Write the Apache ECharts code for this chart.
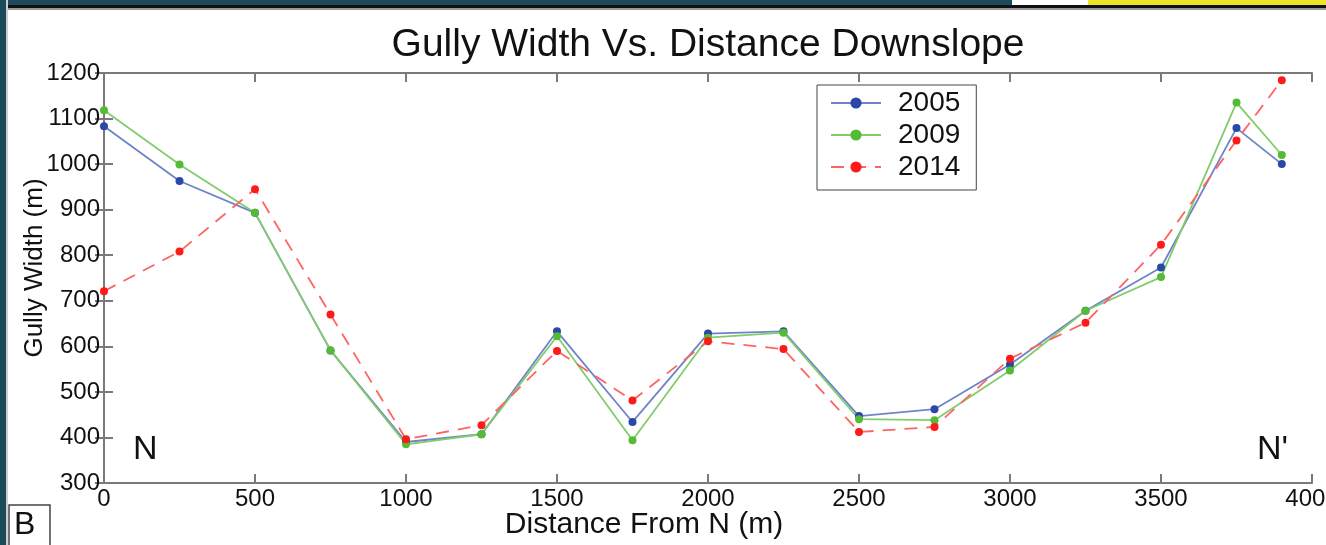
<!DOCTYPE html>
<html>
<head>
<meta charset="utf-8">
<script src="https://cdn.jsdelivr.net/npm/echarts@6/dist/echarts.min.js"></script>
<style>
html,body{margin:0;padding:0;background:#fff;}
#chart{width:1326px;height:545px;}
</style>
</head>
<body>
<div id="chart"></div>
<script>
const distances = [0, 250, 500, 750, 1000, 1250, 1500, 1750, 2000, 2250, 2500, 2750, 3000, 3250, 3500, 3750, 3900];
const width2005 = [1083, 963, 893, 591, 390, 407, 633, 434, 628, 633, 447, 462, 560, 678, 773, 1079, 1000];
const width2009 = [1118, 999, 893, 591, 385, 407, 622, 394, 619, 630, 440, 438, 547, 678, 752, 1135, 1020];
const width2014 = [721, 808, 945, 670, 396, 427, 590, 481, 611, 594, 412, 423, 573, 652, 823, 1052, 1184];
const seriesNames = ['2005', '2009', '2014'];

const FONT = '"Liberation Sans", Arial, Helvetica, sans-serif';
const pairs = (ys) => distances.map((d, i) => [d, ys[i]]);
const plain = (v) => String(v);

const chart = echarts.init(document.getElementById('chart'), null, {renderer: 'canvas'});

const axisLine = {show: true, lineStyle: {color: '#7a7a7a', width: 2}};
const tick = {show: true, inside: true, length: 9, lineStyle: {color: '#7a7a7a', width: 2}};

chart.setOption({
  animation: false,
  backgroundColor: '#ffffff',
  title: {
    text: 'Gully Width Vs. Distance Downslope',
    left: 703, textAlign: 'center', top: 21,
    textStyle: {fontFamily: FONT, fontSize: 39, fontWeight: 'normal', color: '#111'}
  },
  grid: {left: 104, right: 14, top: 73, bottom: 62, containLabel: false, outerBoundsMode: 'none'},
  legend: {
    orient: 'vertical',
    left: 817, top: 85,
    data: seriesNames,
    itemWidth: 50, itemHeight: 14, itemGap: 2,
    padding: [3, 16, 8, 13],
    borderColor: '#444', borderWidth: 1,
    backgroundColor: '#fff',
    textStyle: {fontFamily: FONT, fontSize: 28, color: '#111', lineHeight: 30, padding: [0, 0, 0, 12]}
  },
  xAxis: [{
    type: 'value', min: 0, max: 4000, interval: 500,
    name: 'Distance From N (m)', nameLocation: 'middle', nameGap: 27, nameMoveOverlap: false,
    nameTextStyle: {fontFamily: FONT, fontSize: 30, color: '#111', padding: [0, 128, 0, 0]},
    axisLine: axisLine, axisTick: tick,
    axisLabel: {fontFamily: FONT, fontSize: 24, color: '#111', margin: 4, formatter: plain},
    splitLine: {show: false}
  }, {
    type: 'value', min: 0, max: 4000, interval: 500, position: 'top',
    axisLine: axisLine, axisTick: tick, axisLabel: {show: false}, splitLine: {show: false}
  }],
  yAxis: [{
    type: 'value', min: 300, max: 1200, interval: 100,
    name: 'Gully Width (m)', nameLocation: 'middle', nameGap: 56, nameMoveOverlap: false,
    nameTextStyle: {fontFamily: FONT, fontSize: 26, color: '#111', padding: [0, 0, 0, 20]},
    axisLine: axisLine, axisTick: tick,
    axisLabel: {fontFamily: FONT, fontSize: 24, color: '#111', margin: 4, formatter: plain},
    splitLine: {show: false}
  }, {
    type: 'value', min: 300, max: 1200, interval: 100, position: 'right',
    axisLine: axisLine, axisTick: tick, axisLabel: {show: false}, splitLine: {show: false}
  }],
  series: [{
    name: seriesNames[0], type: 'line', data: pairs(width2005),
    symbol: 'circle', symbolSize: 8,
    itemStyle: {color: '#2a48a8'},
    lineStyle: {color: '#6f84c8', width: 1.8}
  }, {
    name: seriesNames[1], type: 'line', data: pairs(width2009),
    symbol: 'circle', symbolSize: 8,
    itemStyle: {color: '#55bb35'},
    lineStyle: {color: '#82cc6c', width: 1.8}
  }, {
    name: seriesNames[2], type: 'line', data: pairs(width2014),
    symbol: 'circle', symbolSize: 8,
    itemStyle: {color: '#ff1a1a'},
    lineStyle: {color: '#ff6464', width: 1.8, type: [13, 9]}
  }],
  graphic: [
    {type: 'rect', shape: {x: 0, y: 0, width: 1012, height: 6}, style: {fill: '#1b4a5a'}, silent: true},
    {type: 'rect', shape: {x: 1088, y: 0, width: 238, height: 6}, style: {fill: '#eee625'}, silent: true},
    {type: 'rect', shape: {x: 0, y: 5, width: 1326, height: 3}, style: {fill: '#111'}, silent: true},
    {type: 'rect', shape: {x: 0, y: 8, width: 1326, height: 2}, style: {fill: '#999'}, silent: true},
    {type: 'rect', shape: {x: 0, y: 0, width: 6, height: 545}, style: {fill: '#1b4a5a'}, silent: true},
    {type: 'rect', shape: {x: 6, y: 0, width: 2, height: 545}, style: {fill: '#cfcfcf'}, silent: true},
    {type: 'text', left: 133, top: 433, style: {text: 'N', fontFamily: FONT, fontSize: 34, fill: '#111'}},
    {type: 'text', left: 1257, top: 433, style: {text: "N'", fontFamily: FONT, fontSize: 34, fill: '#111'}},
    {type: 'rect', shape: {x: 9, y: 505, width: 41, height: 44}, style: {fill: '#fff', stroke: '#444', lineWidth: 1.5}, silent: true},
    {type: 'text', left: 14, top: 509, style: {text: 'B', fontFamily: FONT, fontSize: 32, fill: '#111'}}
  ]
});
</script>
</body>
</html>
